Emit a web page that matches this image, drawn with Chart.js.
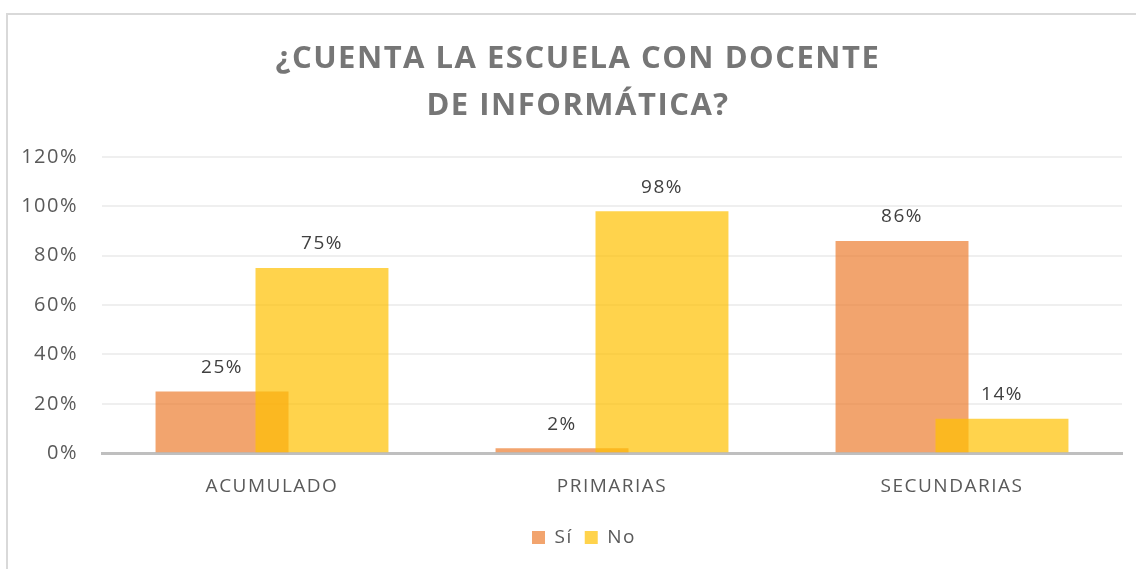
<!DOCTYPE html>
<html>
<head>
<meta charset="utf-8">
<script src="https://cdn.jsdelivr.net/npm/chart.js@4/dist/chart.umd.min.js"></script>
<style>
	html, body { margin: 0; padding: 0; background: #fff; }
	#wrap { position: relative; width: 1136px; height: 569px; overflow: hidden; }
	#frame {
		position: absolute; left: 6px; top: 13px; width: 1160px; height: 600px;
		border-left: 2px solid #d9d9d9; border-top: 2px solid #d9d9d9;
	}
	#chart { position: absolute; left: 0; top: 0; }
</style>
</head>
<body>
<div id="wrap">
	<div id="frame"></div>
	<canvas id="chart" width="1136" height="569"></canvas>
</div>
<script>
const categories = ["ACUMULADO", "PRIMARIAS", "SECUNDARIAS"];
const siValues = [0.25, 0.02, 0.86];
const noValues = [0.75, 0.98, 0.14];
const titleLines = ["¿CUENTA LA ESCUELA CON DOCENTE", "DE INFORMÁTICA?"];

const FONT = "'Open Sans', 'DejaVu Sans', sans-serif";
const SPACING = "1.5px";
const pct = (v) => Math.round(v * 100) + "%";

// letter spacing like the office chart text
const spacingPlugin = {
	id: "spacing",
	beforeUpdate(chart) { chart.ctx.letterSpacing = SPACING; },
	beforeLayout(chart) { chart.ctx.letterSpacing = SPACING; },
	beforeDraw(chart) { chart.ctx.letterSpacing = SPACING; },
};

// title and legend sit a bit right of the canvas centre in the original
function shiftBox(chart, box, dx) {
	if (!box) return;
	const draw = box.draw;
	box.draw = function (area) {
		chart.ctx.save();
		chart.ctx.translate(dx, 0);
		draw.call(this, area);
		chart.ctx.restore();
	};
}
const boxShift = {
	id: "boxShift",
	afterInit(chart) {
		shiftBox(chart, chart.legend, 23);
		shiftBox(chart, chart.titleBlock, 17);
	},
};

// "No" bars go over the "Sí" bars, so hold them back and draw them last
const noOnTop = {
	id: "noOnTop",
	beforeDatasetDraw(chart, args) {
		if (args.index === 1) return false;
	},
	afterDatasetsDraw(chart) {
		chart.getDatasetMeta(1).controller.draw();
	},
};

// value labels above each bar
const valueLabels = {
	id: "valueLabels",
	afterDatasetsDraw(chart) {
		const ctx = chart.ctx;
		ctx.save();
		ctx.font = "19px " + FONT;
		ctx.fillStyle = "#404040";
		ctx.textAlign = "center";
		ctx.textBaseline = "middle";
		chart.data.datasets.forEach((ds, i) => {
			const meta = chart.getDatasetMeta(i);
			meta.data.forEach((bar, j) => {
				ctx.fillText(pct(ds.data[j]), bar.x, bar.y - 24);
			});
		});
		ctx.restore();
	},
};

new Chart(document.getElementById("chart"), {
	type: "bar",
	data: {
		labels: categories,
		datasets: [
			{
				label: "Sí",
				data: siValues,
				backgroundColor: "rgba(237, 125, 49, 0.7)",
			},
			{
				label: "No",
				data: noValues,
				backgroundColor: "rgba(255, 192, 0, 0.7)",
			},
		],
	},
	options: {
		responsive: false,
		animation: false,
		categoryPercentage: 0.588,
		barPercentage: 1.33,
		layout: { padding: { top: 36, left: 0, right: 14, bottom: 12 } },
		plugins: {
			title: {
				display: true,
				text: titleLines,
				color: "#767676",
				font: { family: FONT, size: 31, weight: "bold", lineHeight: 1.5 },
				padding: { top: 0, bottom: 28 },
			},
			legend: {
				position: "bottom",
				labels: {
					boxWidth: 13,
					boxHeight: 13,
					color: "#595959",
					font: { family: FONT, size: 19 },
					padding: 12,
				},
			},
			tooltip: { enabled: false },
		},
		scales: {
			y: {
				min: 0,
				max: 1.2,
				ticks: {
					stepSize: 0.2,
					callback: (v) => pct(v),
					color: "#595959",
					font: { family: FONT, size: 20 },
					padding: 24,
				},
				grid: { color: "#efefef", lineWidth: 2, drawTicks: false },
				border: { display: false },
				afterFit: (s) => { s.width = 102; },
			},
			x: {
				ticks: {
					color: "#595959",
					font: { family: FONT, size: 19 },
					padding: 14,
				},
				grid: { display: false },
				border: { color: "#bfbfbf", width: 3 },
				afterFit: (s) => { s.height += 4; },
			},
		},
	},
	plugins: [spacingPlugin, boxShift, noOnTop, valueLabels],
});
</script>
</body>
</html>
